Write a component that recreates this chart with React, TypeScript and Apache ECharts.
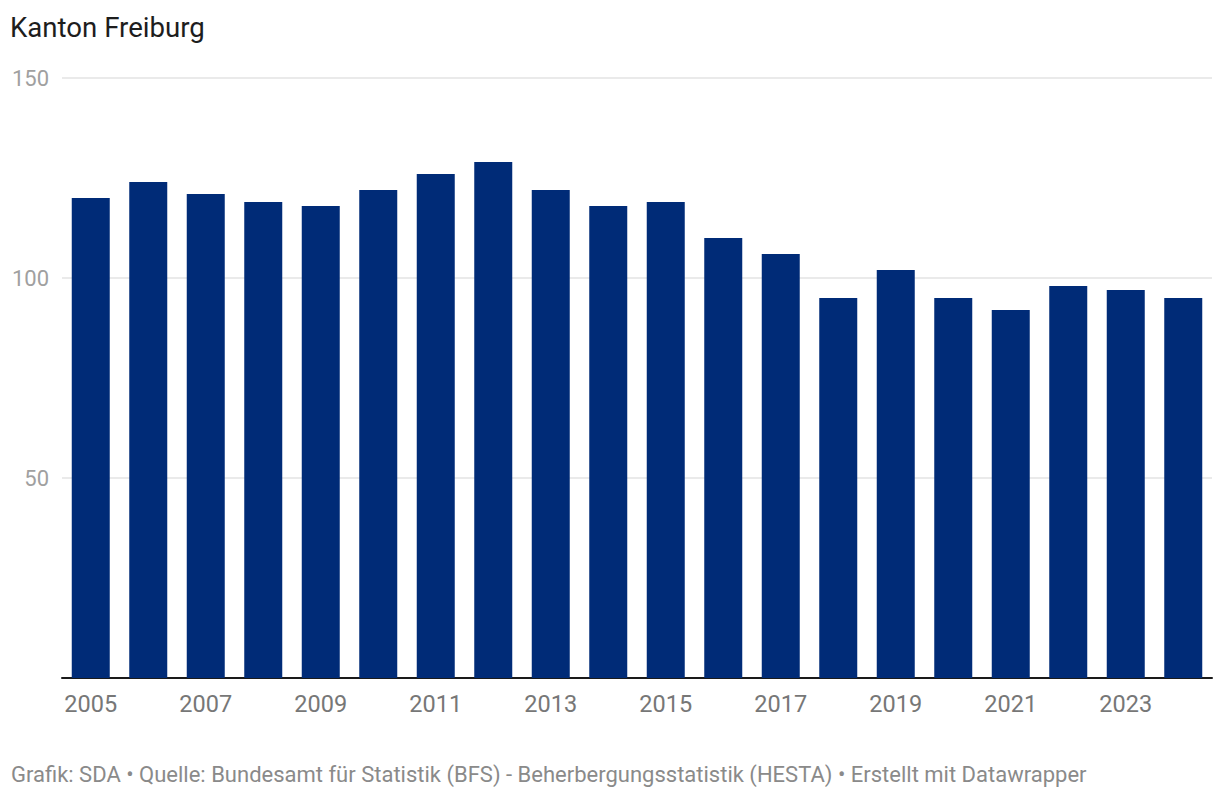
import React, { useEffect, useRef } from "react";
import * as echarts from "echarts";

const years = ["2005","2006","2007","2008","2009","2010","2011","2012","2013","2014","2015","2016","2017","2018","2019","2020","2021","2022","2023","2024"];
const values = [120,124,121,119,118,122,126,129,122,118,119,110,106,95,102,95,92,98,97,95];
const yTicks = [0, 50, 100, 150];
const title = "Kanton Freiburg";
const footer = "Grafik: SDA • Quelle: Bundesamt für Statistik (BFS) - Beherbergungsstatistik (HESTA) • Erstellt mit Datawrapper";

export default function App() {
  const ref = useRef<HTMLDivElement>(null);
  useEffect(() => {
    if (!ref.current) return;
    const chart = echarts.init(ref.current, undefined, { renderer: "svg" });
    chart.setOption({
      animation: false,
      textStyle: { fontFamily: "Roboto" },
      title: [
        { text: title, left: 10, top: 13, padding: 0, textStyle: { fontFamily: "Roboto", fontSize: 27.6, fontWeight: "normal", color: "#1d1d1d" } },
        { text: footer, left: 11, top: 763, padding: 0, textStyle: { fontFamily: "Roboto", fontSize: 22, fontWeight: "normal", color: "#8a8a8a" } },
      ],
      grid: { left: 62, right: 8, top: 78, bottom: 122, containLabel: false },
      xAxis: {
        type: "category",
        data: years,
        axisLine: { show: true, lineStyle: { color: "#1a1a1a", width: 2 } },
        axisTick: { show: false },
        axisLabel: { interval: 1, color: "#777", fontSize: 23.5, fontFamily: "Roboto", margin: 14 },
      },
      yAxis: {
        type: "value",
        min: yTicks[0],
        max: yTicks[yTicks.length - 1],
        interval: 50,
        axisLine: { show: false },
        axisTick: { show: false },
        splitLine: { lineStyle: { color: "#e3e3e3", width: 1.5 } },
        axisLabel: {
          color: "#a0a0a0",
          fontSize: 22,
          fontFamily: "Roboto",
          margin: 13,
          formatter: (v: number) => (v === 0 ? "" : String(v)),
        },
      },
      series: [
        {
          type: "bar",
          data: values,
          barWidth: 38,
          itemStyle: { color: "#002b77" },
        },
      ],
    });
    return () => chart.dispose();
  }, []);
  return <div ref={ref} style={{ width: 1220, height: 800, position: "absolute", left: 0, top: 0 }} />;
}
